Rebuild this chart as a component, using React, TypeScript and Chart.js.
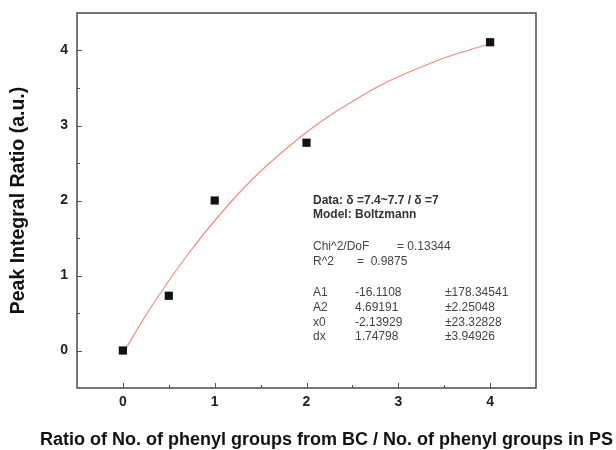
import React, { useEffect, useRef } from "react";
import { Chart, registerables } from "chart.js";

Chart.register(...registerables);

const xValues = [0, 0.5, 1, 2, 4];
const yValues = [0, 0.73, 2.0, 2.77, 4.11];

const fitX = [0, 0.25, 0.5, 0.75, 1, 1.25, 1.5, 1.75, 2, 2.25, 2.5, 2.75, 3, 3.25, 3.5, 3.75, 4];
const fitY = [-0.04, 0.47, 0.93, 1.35, 1.73, 2.08, 2.39, 2.66, 2.91, 3.13, 3.32, 3.5, 3.65, 3.78, 3.9, 4.0, 4.09];

const majorTicks = [0, 1, 2, 3, 4];
const minorTicks = [0.5, 1.5, 2.5, 3.5];

const yTitle = "Peak Integral Ratio (a.u.)";
const xTitle = "Ratio of No. of phenyl groups from BC / No. of phenyl groups in PS";

const headerLines = ["Data: \u03b4 =7.4~7.7 / \u03b4 =7", "Model: Boltzmann"];
const statLabels = ["Chi^2/DoF", "R^2"];
const statValues = ["= 0.13344", "=  0.9875"];
const paramNames = ["A1", "A2", "x0", "dx"];
const paramValues = ["-16.1108", "4.69191", "-2.13929", "1.74798"];
const paramErrors = ["\u00b1178.34541", "\u00b12.25048", "\u00b123.32828", "\u00b13.94926"];

const FONT = '"Liberation Sans", Arial, Helvetica, sans-serif';

const overlay = {
  id: "overlay",
  afterDraw(chart: any) {
    const { ctx, chartArea: a, scales } = chart;
    const xs = scales.x;
    const ys = scales.y;
    ctx.save();
    ctx.strokeStyle = "#555";
    ctx.lineWidth = 1;
    const tick = (v: number, len: number) => {
      const px = Math.round(xs.getPixelForValue(v)) + 0.5;
      ctx.beginPath();
      ctx.moveTo(px, a.bottom);
      ctx.lineTo(px, a.bottom - len);
      ctx.stroke();
      const py = Math.round(ys.getPixelForValue(v)) + 0.5;
      ctx.beginPath();
      ctx.moveTo(a.left, py);
      ctx.lineTo(a.left + len, py);
      ctx.stroke();
    };
    majorTicks.forEach((v) => tick(v, 5));
    minorTicks.forEach((v) => tick(v, 3));

    ctx.lineWidth = 1.5;
    ctx.strokeStyle = "#4a4a4a";
    ctx.strokeRect(a.left, a.top, a.right - a.left, a.bottom - a.top);

    ctx.fillStyle = "#111";
    ctx.font = `bold 18px ${FONT}`;
    ctx.textAlign = "center";
    ctx.textBaseline = "middle";
    ctx.fillText(xTitle, (a.left + a.right) / 2 + 20, 440);

    ctx.textAlign = "left";
    const x0 = a.left + 236;
    ctx.fillStyle = "#333";
    ctx.font = `bold 12px ${FONT}`;
    headerLines.forEach((t, i) => ctx.fillText(t, x0, a.top + 188 + i * 14));
    ctx.font = `12px ${FONT}`;
    ctx.fillStyle = "#444";
    statLabels.forEach((t, i) => ctx.fillText(t, x0, a.top + 234 + i * 15));
    ctx.fillText(statValues[0], x0 + 84, a.top + 234);
    ctx.fillText(statValues[1], x0 + 44, a.top + 249);
    paramNames.forEach((t, i) => {
      const yy = a.top + 280 + i * 14.7;
      ctx.fillText(t, x0, yy);
      ctx.fillText(paramValues[i], x0 + 42, yy);
      ctx.fillText(paramErrors[i], x0 + 132, yy);
    });
    ctx.restore();
  },
};

export default function App() {
  const ref = useRef<HTMLCanvasElement | null>(null);
  useEffect(() => {
    if (!ref.current) return;
    const chart = new Chart(ref.current, {
      type: "scatter",
      data: {
        datasets: [
          {
            data: xValues.map((x, i) => ({ x, y: yValues[i] })),
            pointStyle: "rect",
            pointRadius: 5.8,
            backgroundColor: "#111",
            borderColor: "#111",
            borderWidth: 0,
          },
          {
            data: fitX.map((x, i) => ({ x, y: fitY[i] })),
            showLine: true,
            pointRadius: 0,
            borderColor: "#f28a7e",
            borderWidth: 1.2,
            cubicInterpolationMode: "monotone",
          } as any,
        ],
      },
      options: {
        animation: false,
        responsive: false,
        devicePixelRatio: 1,
        layout: { padding: { left: 3, top: 13, right: 80, bottom: 32 } },
        plugins: { legend: { display: false }, tooltip: { enabled: false } },
        scales: {
          x: {
            type: "linear",
            min: -0.5,
            max: 4.5,
            border: { display: false },
            grid: { display: false, drawTicks: false },
            afterFit: (s: any) => {
              s.height = 30;
              s.paddingLeft = 0;
              s.paddingRight = 0;
            },
            ticks: {
              stepSize: 0.5,
              padding: 6,
              color: "#222",
              font: { family: FONT, size: 14, weight: "bold" },
              maxRotation: 0,
              autoSkip: false,
              callback: (v: any) => (Number.isInteger(v) && v >= 0 ? String(v) : ""),
            },
          },
          y: {
            type: "linear",
            min: -0.5,
            max: 4.5,
            border: { display: false },
            grid: { display: false, drawTicks: false },
            afterFit: (s: any) => {
              s.width = 74;
              s.paddingTop = 0;
              s.paddingBottom = 0;
            },
            title: {
              display: true,
              text: yTitle,
              color: "#111",
              font: { family: FONT, size: 19.5, weight: "bold" },
              padding: { top: 4, bottom: 4 },
            },
            ticks: {
              stepSize: 0.5,
              padding: 9,
              color: "#222",
              font: { family: FONT, size: 14, weight: "bold" },
              autoSkip: false,
              callback: (v: any) => (Number.isInteger(v) && v >= 0 ? String(v) : ""),
            },
          },
        },
      },
      plugins: [overlay],
    });
    return () => chart.destroy();
  }, []);
  return (
    <div style={{ position: "fixed", left: 0, top: 0, width: 616, height: 450, background: "#fff" }}>
      <canvas ref={ref} width={616} height={450} />
    </div>
  );
}
